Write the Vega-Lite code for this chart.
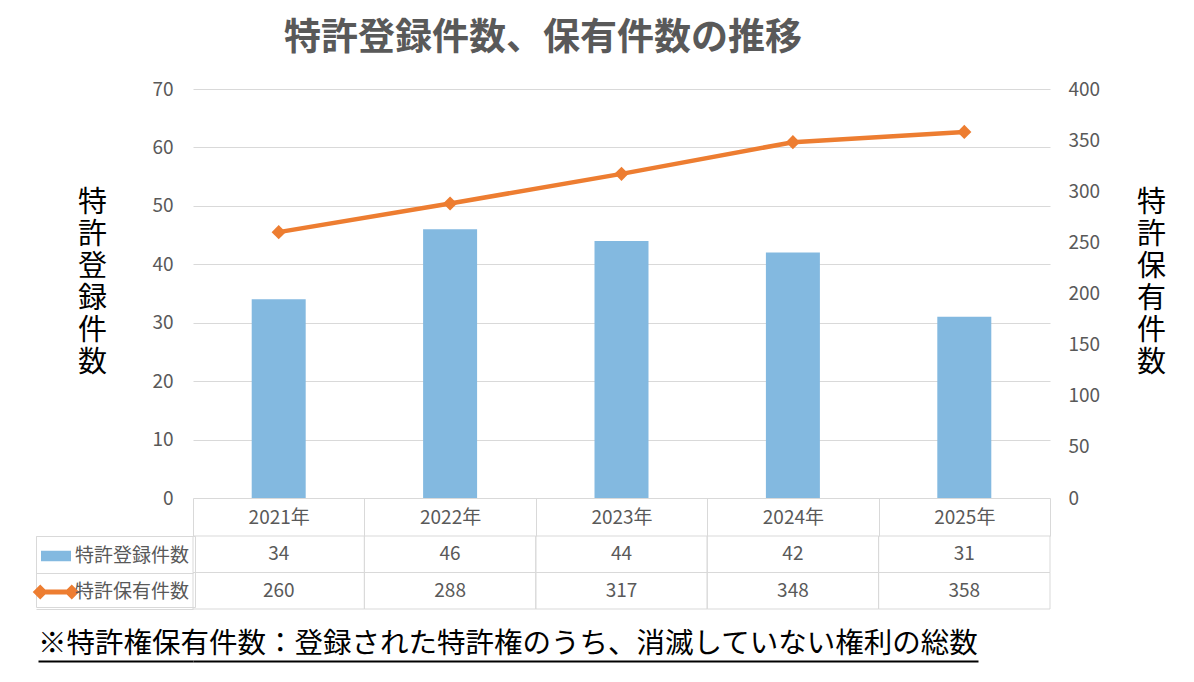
{
  "$schema": "https://vega.github.io/schema/vega-lite/v6.json",
  "background": "white",
  "padding": {"left": 35, "top": 20, "right": 5, "bottom": 5},
  "title": {
    "text": "特許登録件数、保有件数の推移",
    "anchor": "start",
    "frame": "group",
    "dx": 91,
    "offset": 22,
    "fontSize": 37,
    "fontWeight": "bold",
    "color": "#595959",
    "font": "Noto Sans CJK JP"
  },
  "spacing": 38,
  "bounds": "flush",
  "resolve": {"scale": {"color": "independent"}, "legend": {"color": "independent"}},
  "vconcat": [
    {
      "width": 857,
      "height": 409,
      "data": {"values": [
        {"year": "2021年", "registered": 34, "held": 260},
        {"year": "2022年", "registered": 46, "held": 288},
        {"year": "2023年", "registered": 44, "held": 317},
        {"year": "2024年", "registered": 42, "held": 348},
        {"year": "2025年", "registered": 31, "held": 358}
      ]},
      "encoding": {
        "x": {"field": "year", "type": "nominal", "axis": null, "scale": {"paddingInner": 0, "paddingOuter": 0}}
      },
      "layer": [
        {
          "mark": {"type": "bar", "color": "#83B9E0", "width": {"band": 0.315}},
          "encoding": {
            "y": {
              "field": "registered", "type": "quantitative",
              "scale": {"domain": [0, 70]},
              "axis": {
                "orient": "left",
                "values": [0, 10, 20, 30, 40, 50, 60, 70],
                "grid": true, "gridColor": "#d9d9d9",
                "domain": false, "ticks": false,
                "labelPadding": 20, "labelFontSize": 19, "labelColor": "#595959",
                "title": ["特", "許", "登", "録", "件", "数"],
                "titleAngle": 0, "titleFontSize": 29, "titleLineHeight": 32,
                "titleFontWeight": "normal", "titleColor": "black",
                "titleAlign": "center", "titleBaseline": "top",
                "titleX": -101, "titleY": 99
              }
            }
          }
        },
        {
          "encoding": {
            "y": {
              "field": "held", "type": "quantitative",
              "scale": {"domain": [0, 400]},
              "axis": {
                "orient": "right",
                "values": [0, 50, 100, 150, 200, 250, 300, 350, 400],
                "grid": false, "domain": false, "ticks": false,
                "labelPadding": 18, "labelFontSize": 19, "labelColor": "#595959",
                "title": ["特", "許", "保", "有", "件", "数"],
                "titleAngle": 0, "titleFontSize": 29, "titleLineHeight": 32,
                "titleFontWeight": "normal", "titleColor": "black",
                "titleAlign": "center", "titleBaseline": "top",
                "titleX": 101, "titleY": 99
              }
            }
          },
          "layer": [
            {"mark": {"type": "line", "color": "#ED7D31", "strokeWidth": 4.5}},
            {"mark": {"type": "point", "shape": "diamond", "filled": true, "opacity": 1, "size": 200, "color": "#ED7D31"}}
          ]
        }
      ],
      "resolve": {"scale": {"y": "independent"}}
    },
    {
      "width": 857,
      "height": 73,
      "data": {"values": [
        {"year": "2021年", "series": "特許登録件数", "value": 34},
        {"year": "2022年", "series": "特許登録件数", "value": 46},
        {"year": "2023年", "series": "特許登録件数", "value": 44},
        {"year": "2024年", "series": "特許登録件数", "value": 42},
        {"year": "2025年", "series": "特許登録件数", "value": 31},
        {"year": "2021年", "series": "特許保有件数", "value": 260},
        {"year": "2022年", "series": "特許保有件数", "value": 288},
        {"year": "2023年", "series": "特許保有件数", "value": 317},
        {"year": "2024年", "series": "特許保有件数", "value": 348},
        {"year": "2025年", "series": "特許保有件数", "value": 358}
      ]},
      "encoding": {
        "x": {
          "field": "year", "type": "nominal",
          "scale": {"paddingInner": 0, "paddingOuter": 0},
          "axis": {
            "orient": "top", "title": null, "labelAngle": 0,
            "labelFontSize": 19, "labelColor": "#595959",
            "labelBaseline": "middle", "labelPadding": -19,
            "tickBand": "extent", "tickSize": 38, "tickColor": "#d9d9d9",
            "domain": false, "grid": false
          }
        },
        "y": {
          "field": "series", "type": "nominal",
          "scale": {"domain": ["特許登録件数", "特許保有件数"], "paddingInner": 0, "paddingOuter": 0},
          "axis": {
            "title": null, "labels": false, "domain": false, "grid": false,
            "tickBand": "extent", "tickSize": 157, "tickColor": "#d9d9d9"
          }
        }
      },
      "layer": [
        {"mark": {"type": "rect", "fill": "white", "fillOpacity": 0, "stroke": "#d9d9d9", "strokeWidth": 1}},
        {
          "mark": {"type": "point", "opacity": 0, "filled": true},
          "encoding": {
            "color": {
              "field": "series", "type": "nominal",
              "scale": {"domain": ["特許登録件数", "特許保有件数"], "range": ["#83B9E0", "#ED7D31"]},
              "legend": {
                "orient": "none", "legendX": -157, "legendY": 0,
                "title": null, "padding": 5, "strokeColor": "#d9d9d9",
                "symbolSize": 900, "symbolStrokeWidth": 0, "symbolOpacity": 1,
                "labelFontSize": 19, "labelColor": "#595959", "labelOffset": 4,
                "rowPadding": 11,
                "encode": {
                  "symbols": {
                    "update": {
                      "opacity": {"value": 1},
                      "shape": {"signal": "datum.value === '特許登録件数' ? 'M-1,-0.35H1V0.35H-1Z' : 'M-1.55,0L-1.05,-0.5L-0.55,0L-1.05,0.5Z M-0.8,-0.16H0.8V0.16H-0.8Z M0.55,0L1.05,-0.5L1.55,0L1.05,0.5Z'"}
                    }
                  }
                }
              }
            }
          }
        },
        {
          "mark": {"type": "text", "fontSize": 19, "color": "#595959"},
          "encoding": {"text": {"field": "value", "type": "quantitative"}}
        }
      ]
    },
    {
      "width": 785,
      "height": 14,
      "data": {"values": [{"note": "※特許権保有件数：登録された特許権のうち、消滅していない権利の総数"}]},
      "mark": {"type": "text", "align": "left", "baseline": "bottom", "dx": -155, "dy": -2, "fontSize": 28.5, "color": "black"},
      "encoding": {
        "text": {"field": "note"},
        "x": {
          "datum": 0, "type": "quantitative", "scale": {"domain": [0, 1]},
          "axis": {"title": null, "labels": false, "ticks": false, "grid": false, "domain": true, "domainColor": "black", "domainWidth": 2}
        },
        "y": {
          "datum": 0, "type": "quantitative", "scale": {"domain": [0, 1]},
          "axis": {"title": null, "labels": false, "grid": false, "domain": false, "values": [0], "ticks": true, "tickSize": 155, "tickColor": "black", "tickWidth": 2}
        }
      }
    }
  ],
  "config": {
    "view": {"stroke": null},
    "font": "Noto Sans CJK JP",
    "axis": {"labelFont": "Noto Sans CJK JP", "titleFont": "Noto Sans CJK JP"},
    "legend": {"labelFont": "Noto Sans CJK JP"}
  }
}
